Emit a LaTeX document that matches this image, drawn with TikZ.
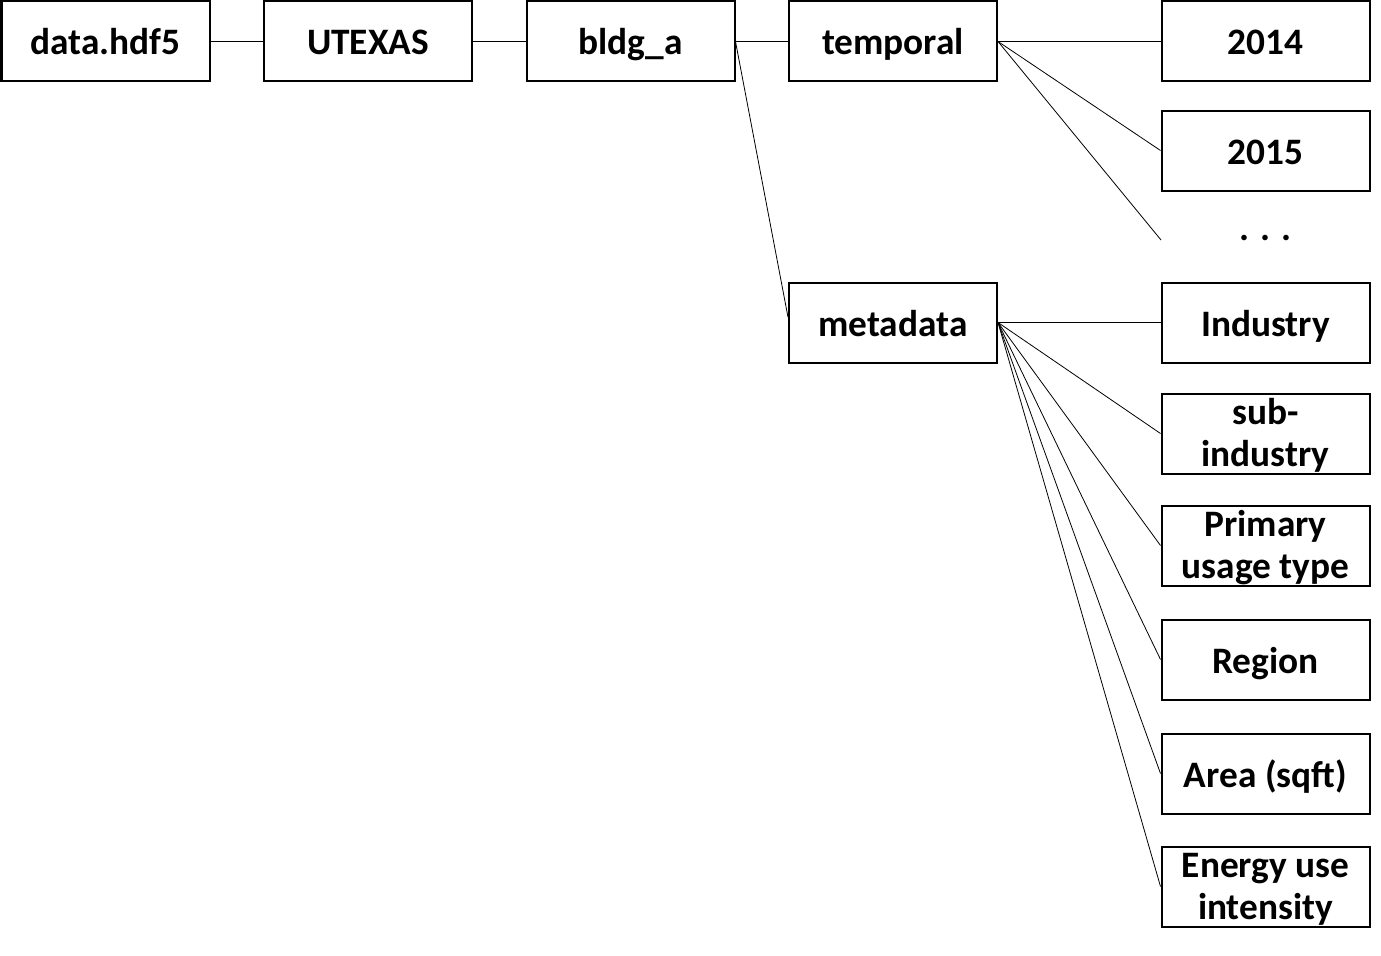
\documentclass[tikz,border=0pt]{standalone}
\usepackage{fontspec}
\setmainfont{Carlito}
\begin{document}
\begin{tikzpicture}[x=0.75pt,y=-0.75pt,
  box/.style={draw=black,line width=1.5pt,minimum width=208*0.75pt,minimum height=80*0.75pt,inner sep=0pt},
  lbl/.style={font=\fontsize{28}{33}\selectfont\bfseries,inner sep=0pt,anchor=base},
  conn/.style={draw=black,line width=0.6pt}]
\useasboundingbox (0,0) rectangle (1381,956);
% top row
\node[box] (data) at (105.5,41.5) {};
\node[lbl] (datat) at ([yshift=-13.5*0.75pt]data.center) {data.hdf5};
\node[box] (utexas) at (368,41.5) {};
\node[lbl] (utexast) at ([yshift=-13.5*0.75pt]utexas.center) {UTEXAS};
\node[box] (bldg) at (630.5,41.5) {};
\node[lbl] (bldgt) at ([yshift=-13.5*0.75pt]bldg.center) {bldg\_a};
\node[box] (temporal) at (893,41.5) {};
\node[lbl] (temporalt) at ([yshift=-13.5*0.75pt]temporal.center) {temporal};
\node[box] (meta) at (893,322.5) {};
\node[lbl] (metat) at ([yshift=-13.5*0.75pt]meta.center) {metadata};
% right column
\node[box] (y2014) at (1265.5,41.5) {};
\node[lbl] (y2014t) at ([yshift=-13.5*0.75pt]y2014.center) {2014};
\node[box] (y2015) at (1265.5,150.5) {};
\node[lbl] (y2015t) at ([yshift=-13.5*0.75pt]y2015.center) {2015};
\node[lbl] (dots) at (1265.5,240.5) {.\hspace{8.25pt}.\hspace{8.25pt}.};
\coordinate (dotsin) at (1161,240);
\node[box] (ind) at (1265.5,322.5) {};
\node[lbl] (indt) at ([yshift=-13.5*0.75pt]ind.center) {Industry};
\node[box] (sub) at (1265.5,433.5) {};
\node[lbl] (subt1) at ([yshift=9.5*0.75pt]sub.center) {sub-};
\node[lbl] (subt2) at ([yshift=-32.5*0.75pt]sub.center) {industry};
\node[box] (prim) at (1265.5,545.5) {};
\node[lbl] (primt1) at ([yshift=9.5*0.75pt]prim.center) {Primary};
\node[lbl] (primt2) at ([yshift=-32.5*0.75pt]prim.center) {usage type};
\node[box] (reg) at (1265.5,659.5) {};
\node[lbl] (regt) at ([yshift=-13.5*0.75pt]reg.center) {Region};
\node[box] (area) at (1265.5,773.5) {};
\node[lbl] (areat) at ([yshift=-13.5*0.75pt]area.center) {Area (sqft)};
\node[box] (eui) at (1265.5,886.5) {};
\node[lbl] (euit1) at ([yshift=9.5*0.75pt]eui.center) {Energy use};
\node[lbl] (euit2) at ([yshift=-32.5*0.75pt]eui.center) {intensity};
% connectors
\draw[conn] (data.east) -- (utexas.west);
\draw[conn] (utexas.east) -- (bldg.west);
\draw[conn] (bldg.east) -- (temporal.west);
\draw[conn] (bldg.east) -- ([yshift=4pt]meta.west);
\draw[conn] (temporal.east) -- (y2014.west);
\draw[conn] (temporal.east) -- (y2015.west);
\draw[conn] (temporal.east) -- (dotsin);
\draw[conn] (meta.east) -- (ind.west);
\draw[conn] (meta.east) -- (sub.west);
\draw[conn] (meta.east) -- (prim.west);
\draw[conn] (meta.east) -- (reg.west);
\draw[conn] (meta.east) -- (area.west);
\draw[conn] (meta.east) -- (eui.west);
\end{tikzpicture}
\end{document}
